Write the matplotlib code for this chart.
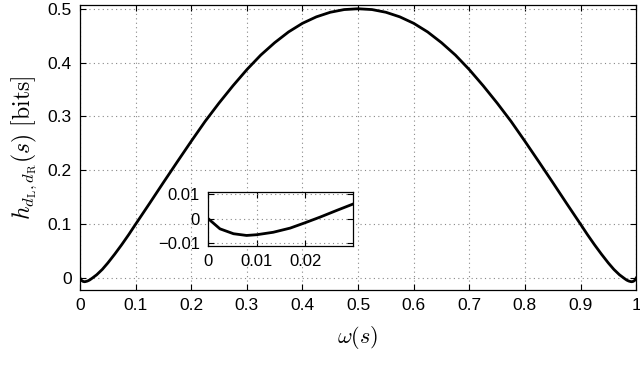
"""Recreate h_{dL,dR}(s) vs omega(s) figure with zoomed inset near 0."""

import matplotlib

matplotlib.use("Agg")
import matplotlib.pyplot as plt

# values
OMEGA = [
    0.0, 0.0024, 0.0052, 0.0079, 0.010, 0.0134, 0.0169, 0.020, 0.0231, 0.0265,
    0.030, 0.040, 0.050, 0.0625, 0.075, 0.0875, 0.100, 0.125, 0.150, 0.175,
    0.200, 0.225, 0.250, 0.275, 0.300, 0.325, 0.350, 0.375, 0.400, 0.425,
    0.450, 0.475, 0.500, 0.525, 0.550, 0.575, 0.600, 0.625, 0.650, 0.675,
    0.700, 0.725, 0.750, 0.775, 0.800, 0.825, 0.850, 0.875, 0.900, 0.9125,
    0.925, 0.9375, 0.950, 0.960, 0.970, 0.9735, 0.977, 0.980, 0.9831, 0.9866,
    0.990, 0.9921, 0.9948, 0.9976, 1.0,
]
H_BITS = [
    0.0, -0.0041, -0.0061, -0.0068, -0.0065, -0.0055, -0.0038, -0.0016, 0.0007, 0.0034,
    0.0061, 0.0160, 0.0280, 0.0445, 0.0620, 0.0805, 0.1000, 0.1385, 0.1775, 0.2160,
    0.2540, 0.2910, 0.3250, 0.3570, 0.3870, 0.4140, 0.4370, 0.4570, 0.4730, 0.4850,
    0.4935, 0.4985, 0.5000, 0.4985, 0.4935, 0.4850, 0.4730, 0.4570, 0.4370, 0.4140,
    0.3870, 0.3570, 0.3250, 0.2910, 0.2540, 0.2160, 0.1775, 0.1385, 0.1000, 0.0805,
    0.0620, 0.0445, 0.0280, 0.0160, 0.0061, 0.0034, 0.0007, -0.0016, -0.0038, -0.0055,
    -0.0065, -0.0068, -0.0061, -0.0041, 0.0,
]
X_TICKS = [0, 0.1, 0.2, 0.3, 0.4, 0.5, 0.6, 0.7, 0.8, 0.9, 1]
X_TICK_LABELS = ["0", "0.1", "0.2", "0.3", "0.4", "0.5", "0.6", "0.7", "0.8", "0.9", "1"]
Y_TICKS = [0, 0.1, 0.2, 0.3, 0.4, 0.5]
Y_TICK_LABELS = ["0", "0.1", "0.2", "0.3", "0.4", "0.5"]
INSET_X_TICKS = [0, 0.01, 0.02]
INSET_X_LABELS = ["0", "0.01", "0.02"]
INSET_Y_TICKS = [-0.01, 0, 0.01]
INSET_Y_LABELS = ["\u22120.01", "0", "0.01"]

plt.rcParams["font.family"] = ["Liberation Sans", "DejaVu Sans"]
plt.rcParams["mathtext.fontset"] = "cm"


def style_axes(ax, size):
    ax.grid(True, linestyle=(0, (1, 3)), color="#888888", linewidth=0.8)
    ax.tick_params(direction="in", top=True, right=True, length=4,
                   width=0.8, labelsize=size, pad=6)
    for sp in ax.spines.values():
        sp.set_linewidth(0.9)
        sp.set_color("black")


fig = plt.figure(figsize=(6.4, 3.84), dpi=100)
ax = fig.add_axes([0.125, 0.245, 0.869, 0.742])
ax.plot(OMEGA, H_BITS, color="black", linewidth=2.0)
ax.set_xlim(0, 1)
ax.set_ylim(-0.022, 0.507)
ax.set_xticks(X_TICKS)
ax.set_xticklabels(X_TICK_LABELS)
ax.set_yticks(Y_TICKS)
ax.set_yticklabels(Y_TICK_LABELS)
style_axes(ax, 12.5)
ax.set_xlabel(r"$\omega(s)$", fontsize=16, labelpad=8)
ax.set_ylabel(r"$h_{d_{\mathrm{L}},d_{\mathrm{R}}}(s)\ \mathrm{[bits]}$",
              fontsize=17, labelpad=6)

ins = fig.add_axes([0.3255, 0.360, 0.2256, 0.1406])
ins.set_facecolor("white")
ins.plot(OMEGA, H_BITS, color="black", linewidth=2.0)
ins.set_xlim(0, 0.0298)
ins.set_ylim(-0.011, 0.011)
ins.set_xticks(INSET_X_TICKS)
ins.set_xticklabels(INSET_X_LABELS)
ins.set_yticks(INSET_Y_TICKS)
ins.set_yticklabels(INSET_Y_LABELS)
style_axes(ins, 12)

fig.savefig("out.png", dpi=100)
